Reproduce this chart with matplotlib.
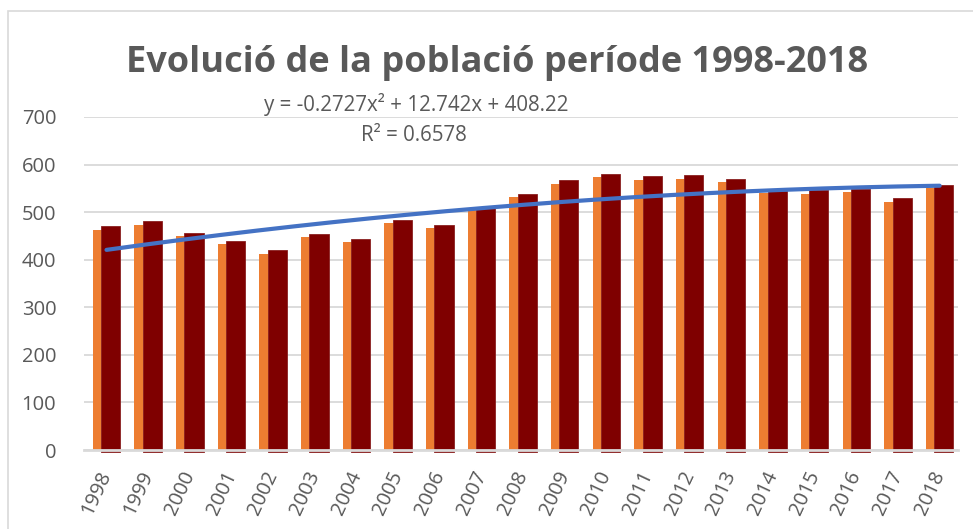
import numpy as np
import matplotlib
matplotlib.use("Agg")
import matplotlib.pyplot as plt
from matplotlib.patches import Rectangle

years = [str(y) for y in range(1998, 2019)]
poblacio = [470, 481, 456, 439, 420, 454, 443, 484, 472, 511, 539,
            567, 580, 576, 578, 570, 545, 546, 549, 529, 557]
ombra = [463, 474, 450, 432, 413, 447, 437, 478, 466, 505, 531,
         559, 573, 568, 570, 563, 541, 539, 542, 521, 550]
trend_coef = [-0.2727, 12.742, 408.22]
r2 = 0.6578
title = "Evolució de la població període 1998-2018"
yticks = [0, 100, 200, 300, 400, 500, 600, 700]

GREY = "#595959"
plt.rcParams['font.family'] = ['Open Sans', 'DejaVu Sans']

fig = plt.figure(figsize=(9.73, 5.29), dpi=100)
ax = fig.add_axes([84/973, 1-450/529, (958-84)/973, (450-117)/529])

x = np.arange(len(years))
ax.bar(x - 0.10, ombra, width=0.46, color="#ED7D31", zorder=2, linewidth=0)
ax.bar(x + 0.10, np.array(poblacio) + 5, bottom=-5, width=0.46, color="#7F0000",
       zorder=3, linewidth=0.6, edgecolor="#8a2020", clip_on=False)

xs = np.linspace(0, len(years) - 1, 200)
a, b, c = trend_coef
ys = a * (xs + 1) ** 2 + b * (xs + 1) + c
ax.plot(xs, ys, color="#4472C4", lw=3, solid_capstyle='round', zorder=4)

ax.set_ylim(0, 700)
ax.set_xlim(-0.54, len(years) - 1 + 0.44)
ax.set_yticks(yticks)
ax.set_yticklabels([str(v) for v in yticks], fontsize=14.5, color=GREY)
ax.set_xticks(x)
ax.set_xticklabels(years, rotation=65, ha='right', va='center',
                   rotation_mode='anchor', fontsize=14.5, color=GREY)
ax.tick_params(axis='x', length=0, pad=16)
ax.tick_params(axis='y', length=0, pad=20)
ax.grid(axis='y', color="#D9D9D9", lw=1.3, zorder=0)
ax.set_axisbelow(True)
for s in ['top', 'right', 'left']:
    ax.spines[s].set_visible(False)
ax.spines['bottom'].set_color("#D9D9D9")
ax.spines['bottom'].set_linewidth(2)
ax.spines['bottom'].set_zorder(5)

fig.text(497/973, 1-72/529, title, fontsize=26, fontweight='bold',
         color=GREY, ha='center', va='baseline')
fig.text(416/973, 1-111/529, "y = -0.2727x² + 12.742x + 408.22",
         fontsize=14.8, color=GREY, ha='center', va='baseline')
fig.text(414/973, 1-141/529, f"R² = {r2}",
         fontsize=14.8, color=GREY, ha='center', va='baseline')

fig.add_artist(Rectangle((8/973, -0.1), 1.2, 1.1 - 11/529 + 0.0,
                         transform=fig.transFigure, fill=False,
                         edgecolor="#D9D9D9", lw=1.2))

fig.savefig("out.png", dpi=100, facecolor="white")
